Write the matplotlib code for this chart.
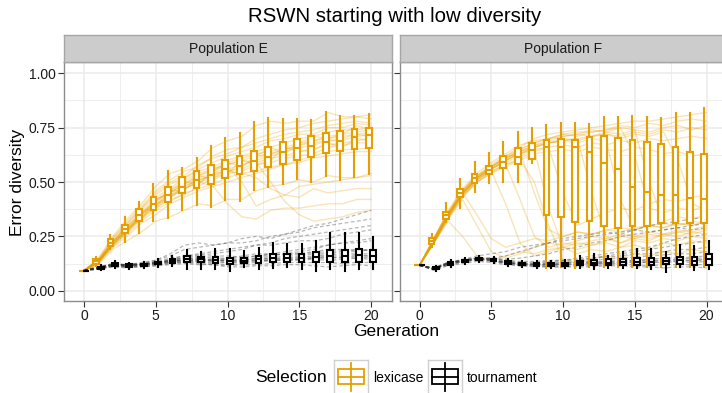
import matplotlib
matplotlib.use("Agg")
import matplotlib.pyplot as plt
from matplotlib.patches import Rectangle
from matplotlib.lines import Line2D

plt.rcParams['font.family'] = ['Liberation Sans', 'DejaVu Sans']

# ---------------- data ----------------
generations = list(range(21))
panels = ["Population E", "Population F"]
selections = ["lexicase", "tournament"]
colors = {"lexicase": "#E69F00", "tournament": "#000000"}

# box statistics (per generation 0..20)
E_lex_med = [0.093,0.135,0.221,0.282,0.347,0.400,0.440,0.476,0.509,0.532,0.558,0.574,0.598,0.617,0.638,0.655,0.666,0.685,0.690,0.708,0.716]
E_lex_q1  = [0.093,0.125,0.206,0.264,0.322,0.371,0.409,0.448,0.471,0.489,0.517,0.537,0.551,0.571,0.583,0.601,0.617,0.635,0.644,0.650,0.655]
E_lex_q3  = [0.093,0.144,0.236,0.302,0.374,0.429,0.478,0.524,0.552,0.578,0.601,0.621,0.644,0.660,0.683,0.698,0.712,0.727,0.736,0.742,0.747]
E_lex_lo  = [0.093,0.114,0.190,0.225,0.267,0.321,0.333,0.371,0.394,0.383,0.417,0.415,0.463,0.476,0.491,0.512,0.501,0.528,0.509,0.522,0.537]
E_lex_hi  = [0.093,0.155,0.256,0.338,0.409,0.489,0.551,0.566,0.609,0.667,0.701,0.724,0.777,0.793,0.790,0.788,0.787,0.823,0.804,0.804,0.813]

E_tour_med = [0.093,0.106,0.121,0.115,0.118,0.128,0.137,0.144,0.144,0.141,0.138,0.138,0.144,0.149,0.149,0.149,0.157,0.160,0.160,0.164,0.160]
E_tour_q1  = [0.093,0.101,0.115,0.110,0.112,0.121,0.129,0.131,0.131,0.126,0.123,0.126,0.126,0.131,0.131,0.131,0.134,0.134,0.131,0.134,0.134]
E_tour_q3  = [0.093,0.111,0.127,0.121,0.124,0.134,0.145,0.160,0.157,0.154,0.152,0.152,0.160,0.167,0.167,0.169,0.180,0.187,0.187,0.190,0.187]
E_tour_lo  = [0.093,0.094,0.106,0.101,0.103,0.110,0.115,0.101,0.098,0.098,0.092,0.108,0.098,0.103,0.108,0.098,0.092,0.101,0.092,0.098,0.098]
E_tour_hi  = [0.093,0.117,0.136,0.130,0.133,0.146,0.160,0.187,0.180,0.190,0.192,0.183,0.195,0.218,0.213,0.215,0.230,0.267,0.267,0.264,0.249]

F_lex_med = [0.117,0.229,0.347,0.448,0.517,0.555,0.594,0.617,0.647,0.660,0.660,0.660,0.640,0.589,0.561,0.476,0.454,0.440,0.440,0.428,0.422]
F_lex_q1  = [0.117,0.215,0.328,0.429,0.494,0.535,0.563,0.583,0.606,0.348,0.338,0.317,0.322,0.298,0.290,0.298,0.298,0.310,0.310,0.313,0.310]
F_lex_q3  = [0.117,0.241,0.363,0.466,0.535,0.574,0.620,0.655,0.678,0.693,0.698,0.693,0.706,0.713,0.704,0.693,0.682,0.675,0.662,0.640,0.629]
F_lex_lo  = [0.117,0.202,0.317,0.379,0.455,0.494,0.501,0.501,0.586,0.103,0.110,0.103,0.110,0.110,0.110,0.110,0.110,0.110,0.110,0.110,0.110]
F_lex_hi  = [0.117,0.261,0.402,0.512,0.593,0.632,0.683,0.731,0.747,0.762,0.770,0.770,0.767,0.797,0.797,0.805,0.800,0.793,0.816,0.819,0.839]

F_tour_med = [0.117,0.103,0.126,0.137,0.146,0.141,0.129,0.123,0.121,0.121,0.121,0.129,0.130,0.130,0.132,0.134,0.134,0.137,0.141,0.138,0.146]
F_tour_q1  = [0.117,0.098,0.120,0.131,0.140,0.135,0.123,0.117,0.115,0.115,0.115,0.120,0.118,0.118,0.120,0.118,0.118,0.123,0.123,0.118,0.118]
F_tour_q3  = [0.117,0.108,0.132,0.143,0.152,0.147,0.135,0.129,0.127,0.127,0.128,0.138,0.141,0.144,0.144,0.149,0.149,0.153,0.157,0.157,0.169]
F_tour_lo  = [0.117,0.090,0.111,0.122,0.131,0.126,0.114,0.108,0.106,0.106,0.105,0.103,0.098,0.103,0.103,0.103,0.098,0.088,0.108,0.095,0.098]
F_tour_hi  = [0.117,0.116,0.141,0.152,0.161,0.156,0.144,0.138,0.136,0.137,0.140,0.161,0.169,0.161,0.177,0.193,0.192,0.180,0.210,0.206,0.230]

# individual runs (approximate)
E_lex_runs = [
    [0.093,0.15,0.25,0.33,0.40,0.48,0.54,0.56,0.60,0.66,0.69,0.71,0.76,0.78,0.77,0.78,0.78,0.82,0.80,0.80,0.81],
    [0.093,0.14,0.23,0.30,0.37,0.43,0.47,0.52,0.55,0.57,0.60,0.62,0.64,0.66,0.68,0.70,0.71,0.73,0.74,0.74,0.75],
    [0.093,0.135,0.22,0.28,0.35,0.40,0.44,0.48,0.51,0.53,0.56,0.58,0.60,0.62,0.64,0.66,0.67,0.69,0.69,0.71,0.72],
    [0.093,0.13,0.21,0.26,0.32,0.37,0.41,0.45,0.47,0.49,0.52,0.54,0.55,0.57,0.58,0.60,0.62,0.64,0.65,0.65,0.66],
    [0.093,0.12,0.19,0.23,0.27,0.32,0.34,0.37,0.40,0.39,0.42,0.42,0.46,0.48,0.49,0.51,0.50,0.53,0.52,0.52,0.54],
    [0.093,0.14,0.21,0.29,0.33,0.42,0.45,0.50,0.49,0.55,0.59,0.57,0.62,0.66,0.63,0.68,0.71,0.70,0.72,0.76,0.74],
    [0.093,0.13,0.23,0.27,0.36,0.39,0.46,0.46,0.53,0.51,0.54,0.60,0.58,0.60,0.66,0.64,0.65,0.68,0.66,0.70,0.69],
    [0.093,0.14,0.22,0.31,0.38,0.45,0.50,0.53,0.58,0.61,0.63,0.66,0.68,0.70,0.72,0.73,0.74,0.76,0.77,0.78,0.77],
    [0.093,0.13,0.20,0.27,0.34,0.38,0.43,0.47,0.50,0.54,0.55,0.57,0.61,0.63,0.65,0.67,0.69,0.70,0.71,0.72,0.73],
    [0.093,0.135,0.22,0.28,0.35,0.41,0.45,0.49,0.52,0.54,0.57,0.50,0.39,0.42,0.44,0.43,0.47,0.45,0.46,0.47,0.47],
    [0.093,0.13,0.21,0.27,0.34,0.39,0.43,0.47,0.50,0.48,0.40,0.34,0.33,0.37,0.38,0.38,0.39,0.40,0.40,0.42,0.42],
    [0.093,0.14,0.22,0.29,0.36,0.42,0.46,0.50,0.53,0.56,0.58,0.60,0.59,0.50,0.41,0.35,0.32,0.33,0.34,0.36,0.37],
    [0.093,0.14,0.24,0.32,0.39,0.46,0.51,0.55,0.57,0.62,0.65,0.66,0.70,0.72,0.74,0.75,0.77,0.78,0.79,0.80,0.79],
    [0.093,0.13,0.21,0.28,0.33,0.38,0.42,0.44,0.48,0.52,0.54,0.55,0.58,0.59,0.61,0.62,0.63,0.66,0.67,0.68,0.68],
    [0.093,0.14,0.23,0.29,0.36,0.41,0.46,0.51,0.54,0.56,0.59,0.61,0.63,0.64,0.66,0.68,0.69,0.71,0.72,0.73,0.74],
    [0.093,0.13,0.21,0.28,0.35,0.39,0.44,0.47,0.50,0.52,0.55,0.56,0.59,0.61,0.62,0.64,0.65,0.67,0.68,0.69,0.70],
    [0.093,0.145,0.24,0.31,0.38,0.44,0.49,0.52,0.56,0.59,0.62,0.64,0.66,0.69,0.70,0.72,0.72,0.75,0.75,0.77,0.76],
    [0.093,0.125,0.20,0.25,0.31,0.35,0.40,0.43,0.46,0.48,0.50,0.52,0.54,0.56,0.58,0.59,0.61,0.62,0.63,0.64,0.64],
    [0.093,0.135,0.22,0.30,0.35,0.42,0.45,0.49,0.53,0.55,0.58,0.60,0.62,0.63,0.65,0.67,0.68,0.69,0.70,0.72,0.71],
    [0.093,0.13,0.22,0.27,0.33,0.40,0.43,0.48,0.51,0.53,0.55,0.54,0.52,0.47,0.44,0.48,0.49,0.50,0.51,0.52,0.53],
]
E_tour_runs = [
    [0.093,0.105,0.115,0.11,0.115,0.12,0.13,0.14,0.14,0.135,0.13,0.135,0.14,0.145,0.15,0.15,0.155,0.16,0.16,0.165,0.16],
    [0.093,0.11,0.12,0.115,0.12,0.125,0.14,0.15,0.155,0.15,0.15,0.15,0.16,0.17,0.165,0.17,0.18,0.19,0.19,0.185,0.19],
    [0.093,0.10,0.11,0.11,0.11,0.115,0.12,0.125,0.12,0.12,0.115,0.12,0.12,0.125,0.13,0.13,0.13,0.13,0.125,0.13,0.13],
    [0.093,0.105,0.12,0.12,0.12,0.13,0.145,0.16,0.165,0.17,0.18,0.19,0.21,0.22,0.24,0.25,0.26,0.27,0.28,0.29,0.30],
    [0.093,0.11,0.125,0.12,0.13,0.14,0.16,0.19,0.20,0.21,0.22,0.22,0.23,0.25,0.26,0.28,0.30,0.31,0.33,0.35,0.37],
    [0.093,0.10,0.115,0.11,0.115,0.12,0.13,0.135,0.13,0.125,0.12,0.125,0.13,0.14,0.14,0.145,0.15,0.15,0.155,0.15,0.155],
    [0.093,0.105,0.12,0.115,0.12,0.125,0.135,0.145,0.15,0.14,0.14,0.145,0.15,0.16,0.17,0.18,0.19,0.21,0.22,0.23,0.24],
    [0.093,0.10,0.11,0.105,0.11,0.115,0.125,0.13,0.125,0.12,0.11,0.11,0.115,0.115,0.12,0.12,0.115,0.11,0.115,0.12,0.115],
    [0.093,0.11,0.12,0.12,0.125,0.135,0.15,0.16,0.17,0.18,0.19,0.20,0.21,0.21,0.22,0.23,0.23,0.24,0.26,0.27,0.28],
    [0.093,0.105,0.115,0.115,0.12,0.13,0.14,0.14,0.145,0.145,0.14,0.14,0.15,0.15,0.16,0.16,0.17,0.17,0.18,0.18,0.19],
    [0.093,0.105,0.12,0.12,0.125,0.14,0.17,0.21,0.22,0.21,0.22,0.24,0.25,0.24,0.26,0.27,0.29,0.30,0.31,0.32,0.33],
    [0.093,0.10,0.115,0.115,0.12,0.125,0.13,0.13,0.135,0.14,0.15,0.16,0.17,0.17,0.18,0.19,0.20,0.21,0.22,0.22,0.23],
    [0.093,0.11,0.12,0.12,0.12,0.13,0.14,0.15,0.145,0.14,0.135,0.14,0.145,0.15,0.15,0.155,0.16,0.165,0.17,0.17,0.17],
    [0.093,0.105,0.125,0.12,0.12,0.13,0.135,0.14,0.14,0.14,0.14,0.135,0.14,0.14,0.145,0.145,0.15,0.155,0.15,0.16,0.16],
    [0.093,0.10,0.12,0.115,0.12,0.125,0.135,0.14,0.135,0.13,0.13,0.13,0.135,0.14,0.14,0.14,0.145,0.14,0.145,0.15,0.145],
    [0.093,0.105,0.12,0.12,0.125,0.13,0.14,0.155,0.16,0.16,0.16,0.155,0.16,0.165,0.17,0.17,0.175,0.18,0.185,0.19,0.185],
]
F_lex_runs = [
    [0.117,0.24,0.36,0.46,0.53,0.58,0.62,0.66,0.70,0.72,0.73,0.74,0.75,0.76,0.77,0.78,0.78,0.79,0.80,0.81,0.82],
    [0.117,0.23,0.35,0.45,0.52,0.56,0.60,0.63,0.66,0.68,0.69,0.70,0.71,0.72,0.71,0.73,0.72,0.74,0.73,0.75,0.74],
    [0.117,0.22,0.34,0.44,0.50,0.55,0.58,0.61,0.64,0.66,0.67,0.66,0.68,0.67,0.69,0.68,0.70,0.69,0.70,0.71,0.70],
    [0.117,0.22,0.33,0.42,0.30,0.18,0.15,0.17,0.20,0.22,0.21,0.23,0.25,0.24,0.26,0.25,0.27,0.26,0.28,0.27,0.29],
    [0.117,0.23,0.34,0.44,0.51,0.55,0.40,0.22,0.16,0.18,0.20,0.19,0.21,0.22,0.20,0.23,0.22,0.24,0.23,0.25,0.24],
    [0.117,0.23,0.35,0.45,0.52,0.56,0.60,0.63,0.65,0.38,0.20,0.17,0.19,0.18,0.20,0.21,0.19,0.22,0.21,0.23,0.22],
    [0.117,0.24,0.36,0.46,0.52,0.57,0.61,0.64,0.67,0.68,0.69,0.70,0.45,0.25,0.22,0.24,0.23,0.26,0.25,0.27,0.26],
    [0.117,0.23,0.35,0.45,0.52,0.56,0.60,0.63,0.66,0.68,0.69,0.68,0.70,0.69,0.42,0.28,0.30,0.29,0.31,0.30,0.32],
    [0.117,0.22,0.34,0.43,0.50,0.54,0.57,0.60,0.50,0.30,0.14,0.13,0.15,0.16,0.15,0.17,0.16,0.18,0.17,0.19,0.18],
    [0.117,0.22,0.32,0.25,0.16,0.14,0.16,0.18,0.17,0.19,0.20,0.22,0.21,0.23,0.25,0.24,0.26,0.25,0.27,0.28,0.30],
    [0.117,0.24,0.36,0.46,0.53,0.57,0.61,0.65,0.68,0.70,0.72,0.73,0.73,0.74,0.75,0.74,0.50,0.32,0.34,0.33,0.35],
    [0.117,0.23,0.35,0.45,0.51,0.56,0.59,0.62,0.65,0.66,0.45,0.30,0.33,0.36,0.38,0.37,0.40,0.42,0.41,0.43,0.44],
    [0.117,0.24,0.37,0.47,0.54,0.59,0.63,0.67,0.69,0.70,0.72,0.71,0.73,0.74,0.76,0.75,0.77,0.76,0.78,0.79,0.78],
    [0.117,0.23,0.34,0.44,0.51,0.55,0.58,0.42,0.25,0.20,0.22,0.21,0.23,0.24,0.22,0.25,0.24,0.26,0.27,0.26,0.28],
    [0.117,0.23,0.35,0.44,0.52,0.57,0.61,0.64,0.67,0.69,0.71,0.72,0.71,0.73,0.72,0.74,0.73,0.75,0.76,0.74,0.76],
    [0.117,0.22,0.33,0.43,0.50,0.54,0.58,0.60,0.63,0.64,0.65,0.64,0.66,0.65,0.64,0.66,0.65,0.63,0.64,0.62,0.63],
    [0.117,0.24,0.36,0.45,0.35,0.24,0.20,0.22,0.24,0.23,0.25,0.27,0.26,0.28,0.27,0.29,0.30,0.29,0.31,0.30,0.32],
    [0.117,0.23,0.35,0.46,0.53,0.57,0.62,0.65,0.68,0.70,0.71,0.72,0.74,0.73,0.75,0.62,0.38,0.36,0.38,0.37,0.39],
    [0.117,0.22,0.34,0.45,0.51,0.56,0.60,0.64,0.45,0.28,0.25,0.27,0.26,0.28,0.29,0.28,0.30,0.31,0.30,0.32,0.31],
    [0.117,0.23,0.35,0.45,0.52,0.57,0.61,0.64,0.66,0.68,0.70,0.69,0.71,0.72,0.70,0.72,0.71,0.73,0.60,0.40,0.37],
]
F_tour_runs = [
    [0.117,0.10,0.125,0.135,0.145,0.14,0.13,0.12,0.12,0.12,0.12,0.125,0.13,0.13,0.135,0.135,0.135,0.14,0.14,0.14,0.145],
    [0.117,0.105,0.13,0.14,0.15,0.145,0.135,0.125,0.125,0.13,0.135,0.14,0.15,0.16,0.17,0.18,0.19,0.20,0.21,0.22,0.23],
    [0.117,0.095,0.12,0.13,0.14,0.135,0.125,0.115,0.11,0.11,0.11,0.115,0.115,0.12,0.12,0.12,0.115,0.12,0.12,0.12,0.12],
    [0.117,0.10,0.125,0.14,0.15,0.15,0.145,0.15,0.16,0.17,0.19,0.20,0.22,0.23,0.25,0.26,0.27,0.28,0.29,0.30,0.31],
    [0.117,0.105,0.12,0.135,0.145,0.14,0.13,0.125,0.12,0.125,0.13,0.13,0.14,0.145,0.15,0.155,0.16,0.165,0.17,0.17,0.18],
    [0.117,0.10,0.13,0.14,0.15,0.14,0.125,0.12,0.115,0.115,0.12,0.12,0.125,0.125,0.13,0.13,0.13,0.135,0.135,0.14,0.14],
    [0.117,0.10,0.125,0.14,0.145,0.15,0.16,0.18,0.20,0.22,0.23,0.24,0.25,0.26,0.27,0.28,0.30,0.31,0.32,0.33,0.34],
    [0.117,0.095,0.115,0.125,0.135,0.13,0.12,0.115,0.115,0.11,0.11,0.11,0.11,0.115,0.115,0.11,0.11,0.105,0.11,0.11,0.105],
    [0.117,0.105,0.13,0.14,0.15,0.145,0.14,0.135,0.135,0.14,0.14,0.145,0.15,0.155,0.16,0.17,0.17,0.18,0.19,0.19,0.20],
    [0.117,0.10,0.12,0.135,0.145,0.14,0.13,0.125,0.125,0.125,0.125,0.13,0.13,0.135,0.14,0.14,0.145,0.15,0.15,0.155,0.16],
    [0.117,0.105,0.13,0.145,0.16,0.17,0.18,0.20,0.21,0.22,0.24,0.25,0.26,0.27,0.26,0.28,0.27,0.28,0.29,0.28,0.29],
    [0.117,0.10,0.125,0.14,0.15,0.145,0.13,0.125,0.12,0.12,0.125,0.13,0.135,0.13,0.135,0.14,0.14,0.14,0.145,0.15,0.15],
    [0.117,0.105,0.125,0.135,0.145,0.14,0.13,0.12,0.12,0.12,0.12,0.12,0.125,0.125,0.125,0.13,0.13,0.13,0.135,0.13,0.135],
    [0.117,0.10,0.13,0.14,0.15,0.15,0.14,0.13,0.13,0.135,0.14,0.15,0.16,0.17,0.18,0.19,0.20,0.22,0.24,0.25,0.26],
]

x_ticks = [0, 5, 10, 15, 20]
y_ticks = [0.00, 0.25, 0.50, 0.75, 1.00]
y_tick_labels = ["0.00", "0.25", "0.50", "0.75", "1.00"]

# ---------------- figure ----------------
W, H = 722, 393
fig = plt.figure(figsize=(W / 100, H / 100), dpi=100)
fig.patch.set_facecolor("white")

def px_axes(x0, y0, x1, y1):
    return fig.add_axes([x0 / W, 1 - y1 / H, (x1 - x0) / W, (y1 - y0) / H])

XLIM = (-1.394, 21.46)
YLIM = (-0.047, 1.052)
GRID = "#EBEBEB"
BORDER = "#8C8C8C"
TXT = "#1A1A1A"

def stats_list(med, q1, q3, lo, hi):
    return [dict(med=m, q1=a, q3=b, whislo=l, whishi=h, fliers=[])
            for m, a, b, l, h in zip(med, q1, q3, lo, hi)]

panel_data = {
    "Population E": dict(
        lex_runs=E_lex_runs, tour_runs=E_tour_runs,
        lex=stats_list(E_lex_med, E_lex_q1, E_lex_q3, E_lex_lo, E_lex_hi),
        tour=stats_list(E_tour_med, E_tour_q1, E_tour_q3, E_tour_lo, E_tour_hi)),
    "Population F": dict(
        lex_runs=F_lex_runs, tour_runs=F_tour_runs,
        lex=stats_list(F_lex_med, F_lex_q1, F_lex_q3, F_lex_lo, F_lex_hi),
        tour=stats_list(F_tour_med, F_tour_q1, F_tour_q3, F_tour_lo, F_tour_hi)),
}

panel_px = {"Population E": (64, 392), "Population F": (399.5, 727.5)}
TOP, BOT = 62, 301
DODGE = 0.16
BW = 0.40
LW = 1.5

for i, name in enumerate(panels):
    x0, x1 = panel_px[name]
    ax = px_axes(x0, TOP, x1, BOT)
    d = panel_data[name]
    ax.set_xlim(*XLIM)
    ax.set_ylim(*YLIM)
    # grid
    for gx in [2.5, 7.5, 12.5, 17.5]:
        ax.axvline(gx, color=GRID, lw=0.6, zorder=0)
    for gx in x_ticks:
        ax.axvline(gx, color=GRID, lw=1.1, zorder=0)
    for gy in [0.125, 0.375, 0.625, 0.875]:
        ax.axhline(gy, color=GRID, lw=0.6, zorder=0)
    for gy in y_ticks:
        ax.axhline(gy, color=GRID, lw=1.1, zorder=0)
    # run lines
    for run in d["lex_runs"]:
        ax.plot(generations, run, color=colors["lexicase"], alpha=0.28, lw=1.0, zorder=1)
    for run in d["tour_runs"]:
        ax.plot(generations, run, color="#333333", alpha=0.35, lw=0.9,
                dashes=(3, 2), zorder=1)
    # boxplots
    for key, sel, off in [("lex", "lexicase", -DODGE), ("tour", "tournament", DODGE)]:
        c = colors[sel]
        ax.bxp(d[key], positions=[g + off for g in generations], widths=BW,
               patch_artist=True, showfliers=False, manage_ticks=False,
               boxprops=dict(facecolor="white", edgecolor=c, linewidth=LW),
               medianprops=dict(color=c, linewidth=LW, solid_capstyle="butt"),
               whiskerprops=dict(color=c, linewidth=LW),
               capprops=dict(linewidth=0), zorder=3)
    ax.set_xticks(x_ticks)
    ax.set_xticklabels([str(t) for t in x_ticks], fontsize=10, color=TXT)
    ax.set_yticks(y_ticks)
    if i == 0:
        ax.set_yticklabels(y_tick_labels, fontsize=10, color=TXT)
    else:
        ax.set_yticklabels([])
        ax.tick_params(axis="y", length=0)
    ax.tick_params(axis="both", color="#333333", length=4, width=0.8, pad=2)
    for s in ax.spines.values():
        s.set_color(BORDER)
        s.set_linewidth(1.0)
    # strip
    sax = px_axes(x0, 35, x1, TOP)
    sax.set_xticks([]); sax.set_yticks([])
    sax.set_facecolor("#CCCCCC")
    for s in sax.spines.values():
        s.set_color("#A6A6A6")
        s.set_linewidth(1.0)
    sax.text(0.5, 0.5, name, transform=sax.transAxes, ha="center", va="center",
             fontsize=10, color=TXT)

# titles
fig.text(395 / W, 1 - 16 / H, "RSWN starting with low diversity", ha="center",
         va="center", fontsize=14.7, color="black")
fig.text(396 / W, 1 - 332 / H, "Generation", ha="center", va="center",
         fontsize=12.5, color="black")
fig.text(18 / W, 1 - 182 / H, "Error diversity", ha="center", va="center",
         rotation=90, fontsize=12.5, color="black")

# legend
fig.text(291 / W, 1 - 378 / H, "Selection", ha="center", va="center",
         fontsize=12.5, color="black")
legend_items = [("lexicase", 334, 373), ("tournament", 428, 467)]
for sel, kx, tx in legend_items:
    kax = px_axes(kx, 360, kx + 34, 394)
    kax.set_xlim(0, 1); kax.set_ylim(0, 1)
    kax.set_xticks([]); kax.set_yticks([])
    for s in kax.spines.values():
        s.set_color("#D0D0D0")
        s.set_linewidth(1.0)
    c = colors[sel]
    kax.add_line(Line2D([0.5, 0.5], [0.08, 0.92], color=c, lw=1.3))
    kax.add_patch(Rectangle((0.12, 0.28), 0.76, 0.46, facecolor="white",
                            edgecolor=c, lw=1.3))
    kax.add_line(Line2D([0.12, 0.88], [0.51, 0.51], color=c, lw=1.3))
    fig.text(tx / W, 1 - 378 / H, sel, ha="left", va="center", fontsize=10,
             color="black")

fig.savefig("out.png", dpi=100)
